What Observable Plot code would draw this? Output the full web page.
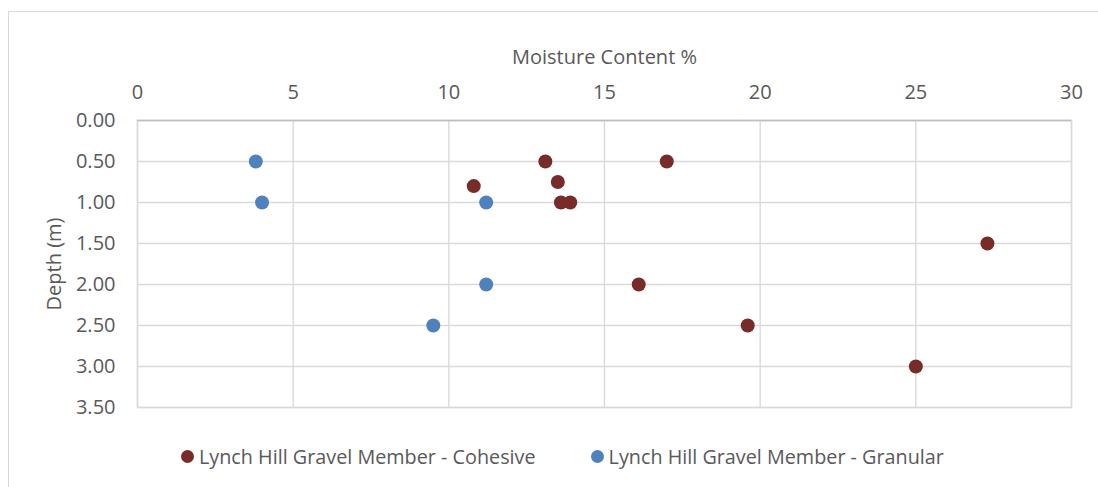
<!DOCTYPE html>
<html>
<head>
<meta charset="utf-8">
<script src="https://cdn.jsdelivr.net/npm/d3@7"></script>
<script src="https://cdn.jsdelivr.net/npm/@observablehq/plot@0.6"></script>
<style>
  body { margin: 0; background: #fff; font-family: "Open Sans", sans-serif; color: #595959; }
  #frame { position: absolute; left: 8px; top: 11px; width: 1200px; height: 600px; border: 1px solid #d9d9d9; }
  #chart { position: absolute; left: 0; top: 0; }
  #legend { position: absolute; left: 181px; top: 443px; display: flex; align-items: center; font-size: 19.8px; white-space: nowrap; }
  .item { display: flex; align-items: center; }
  .sw { width: 13px; height: 13px; border-radius: 50%; margin-right: 5px; }
</style>
</head>
<body>
<div id="frame"></div>
<div id="chart"></div>
<div id="legend"></div>
<script>
const seriesNames = ["Lynch Hill Gravel Member - Cohesive", "Lynch Hill Gravel Member - Granular"];
const seriesColors = ["#772C2A", "#4F81BD"];

const cohesiveMoisture = [13.1, 17.0, 10.8, 13.5, 13.6, 13.9, 27.3, 16.1, 19.6, 25.0];
const cohesiveDepth    = [0.5, 0.5, 0.8, 0.75, 1.0, 1.0, 1.5, 2.0, 2.5, 3.0];

const granularMoisture = [3.8, 4.0, 11.2, 11.2, 9.5];
const granularDepth    = [0.5, 1.0, 1.0, 2.0, 2.5];

const xTicks = [0, 5, 10, 15, 20, 25, 30];
const yTicks = [0, 0.5, 1.0, 1.5, 2.0, 2.5, 3.0, 3.5];

const data = [
  ...cohesiveMoisture.map((m, i) => ({moisture: m, depth: cohesiveDepth[i], series: seriesNames[0]})),
  ...granularMoisture.map((m, i) => ({moisture: m, depth: granularDepth[i], series: seriesNames[1]}))
];

const chart = Plot.plot({
  width: 1098,
  height: 425,
  marginLeft: 137,
  marginRight: 27,
  marginTop: 120,
  marginBottom: 18,
  style: { fontFamily: "Open Sans", fontSize: "20px", color: "#595959", background: "transparent", overflow: "visible" },
  x: { domain: [0, 30] },
  y: { domain: [0, 3.5], reverse: true },
  color: { domain: seriesNames, range: seriesColors },
  marks: [
    Plot.gridX(xTicks, { stroke: "#d9d9d9", strokeOpacity: 1, strokeWidth: 1.4 }),
    Plot.gridY(yTicks, { stroke: "#d9d9d9", strokeOpacity: 1, strokeWidth: 1.4 }),
    Plot.frame({ stroke: "#d9d9d9", strokeWidth: 1.4 }),
    Plot.ruleY([0], { stroke: "#bfbfbf", strokeWidth: 1.6 }),
    Plot.axisX(xTicks, { anchor: "top", tickSize: 0, tickPadding: 22, label: "Moisture Content %", labelArrow: "none", labelAnchor: "center", labelOffset: 71, fill: "#595959" }),
    Plot.axisY(yTicks, { anchor: "left", tickSize: 0, tickPadding: 22, tickFormat: d3.format(".2f"), label: "Depth (m)", labelArrow: "none", labelAnchor: "center", labelOffset: 91, fill: "#595959" }),
    Plot.dot(data, { x: "moisture", y: "depth", fill: "series", r: 7, stroke: null })
  ]
});
document.getElementById("chart").appendChild(chart);

const legend = document.getElementById("legend");
seriesNames.forEach((name, i) => {
  const item = document.createElement("div");
  item.className = "item";
  if (i > 0) item.style.marginLeft = "55px";
  const sw = document.createElement("span");
  sw.className = "sw";
  sw.style.background = seriesColors[i];
  const label = document.createElement("span");
  label.textContent = name;
  item.appendChild(sw);
  item.appendChild(label);
  legend.appendChild(item);
});
</script>
</body>
</html>
